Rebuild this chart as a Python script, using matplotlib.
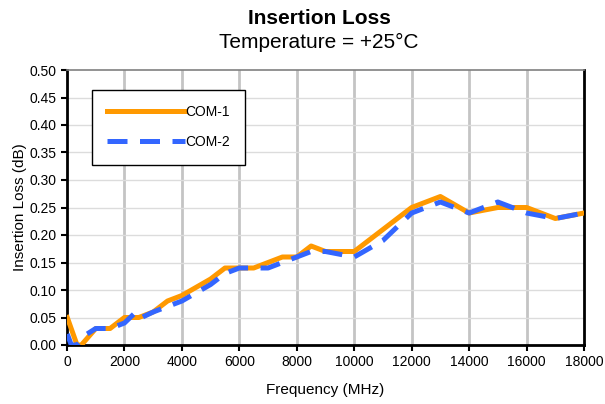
import matplotlib
matplotlib.use('Agg')
import matplotlib.pyplot as plt

plt.rcParams['font.family'] = ['Liberation Sans', 'DejaVu Sans']

# Frequency points (MHz)
freq_1 = [10, 350, 500, 1000, 1500, 2000, 2500, 3000, 3500, 4000, 5000, 5500, 6000,
          6500, 7000, 7500, 8000, 8500, 9000, 10000, 11000, 12000, 13000, 14000,
          15000, 16000, 17000, 18000]
com_1 = [0.05, 0.00, 0.00, 0.03, 0.03, 0.05, 0.05, 0.06, 0.08, 0.09, 0.12, 0.14, 0.14,
         0.14, 0.15, 0.16, 0.16, 0.18, 0.17, 0.17, 0.21, 0.25, 0.27, 0.24,
         0.25, 0.25, 0.23, 0.24]

freq_2 = [10, 150, 350, 700, 1000, 1500, 2000, 2400, 2600, 3000, 3500, 4000, 5000,
          5500, 6000, 7000, 7500, 8000, 8500, 9000, 10000, 11000, 12000, 13000,
          14000, 15000, 16000, 17000, 18000]
com_2 = [0.02, 0.00, 0.00, 0.02, 0.03, 0.03, 0.04, 0.06, 0.05, 0.06, 0.07, 0.08, 0.11,
         0.13, 0.14, 0.14, 0.15, 0.16, 0.17, 0.17, 0.16, 0.19, 0.24, 0.26,
         0.24, 0.26, 0.24, 0.23, 0.24]

fig = plt.figure(figsize=(6.05, 4.04), dpi=100)
ax = fig.add_axes([67 / 605, 1 - 345 / 404, (584 - 67) / 605, (345 - 70) / 404])

ax.plot(freq_1, com_1, color='#ff9900', lw=3.6, label='COM-1', zorder=3)
ax.plot(freq_2, com_2, color='#3366ff', lw=3.6, dashes=(4, 2.5), label='COM-2', zorder=4)

ax.set_xlim(0, 18000)
ax.set_ylim(0, 0.5)
ax.set_xticks(range(0, 18001, 2000))
ax.set_yticks([i * 0.05 for i in range(11)])
ax.set_yticklabels(['%.2f' % (i * 0.05) for i in range(11)])
ax.tick_params(labelsize=10, length=4, width=1.5, direction='out')

for v in range(2000, 18000, 2000):
    ax.axvline(v, color='#c4c4c4', lw=2, zorder=1)
for i in range(1, 10):
    ax.axhline(i * 0.05, color='#dcdcdc', lw=1, zorder=1)

for s in ['left', 'bottom', 'right']:
    ax.spines[s].set_linewidth(2)
    ax.spines[s].set_color('black')
ax.spines['top'].set_linewidth(1.2)
ax.spines['top'].set_color('#808080')

ax.set_xlabel('Frequency (MHz)', fontsize=11, labelpad=10)
ax.set_ylabel('Insertion Loss (dB)', fontsize=11, labelpad=2)

fig.text(319 / 605, 1 - 18 / 404, 'Insertion Loss', ha='center', va='center',
         fontsize=15, fontweight='bold')
fig.text(319 / 605, 1 - 42 / 404, 'Temperature = +25°C', ha='center', va='center',
         fontsize=15)

leg = ax.legend(loc='upper left', bbox_to_anchor=((92 - 67) / 517, (345 - 90) / 275),
                borderaxespad=0, fontsize=10, handlelength=5.6, handletextpad=0.0,
                labelspacing=1.15, borderpad=1.1, fancybox=False, framealpha=1)
leg.get_frame().set_edgecolor('black')
leg.get_frame().set_linewidth(1)

fig.savefig('out.png', dpi=100)
